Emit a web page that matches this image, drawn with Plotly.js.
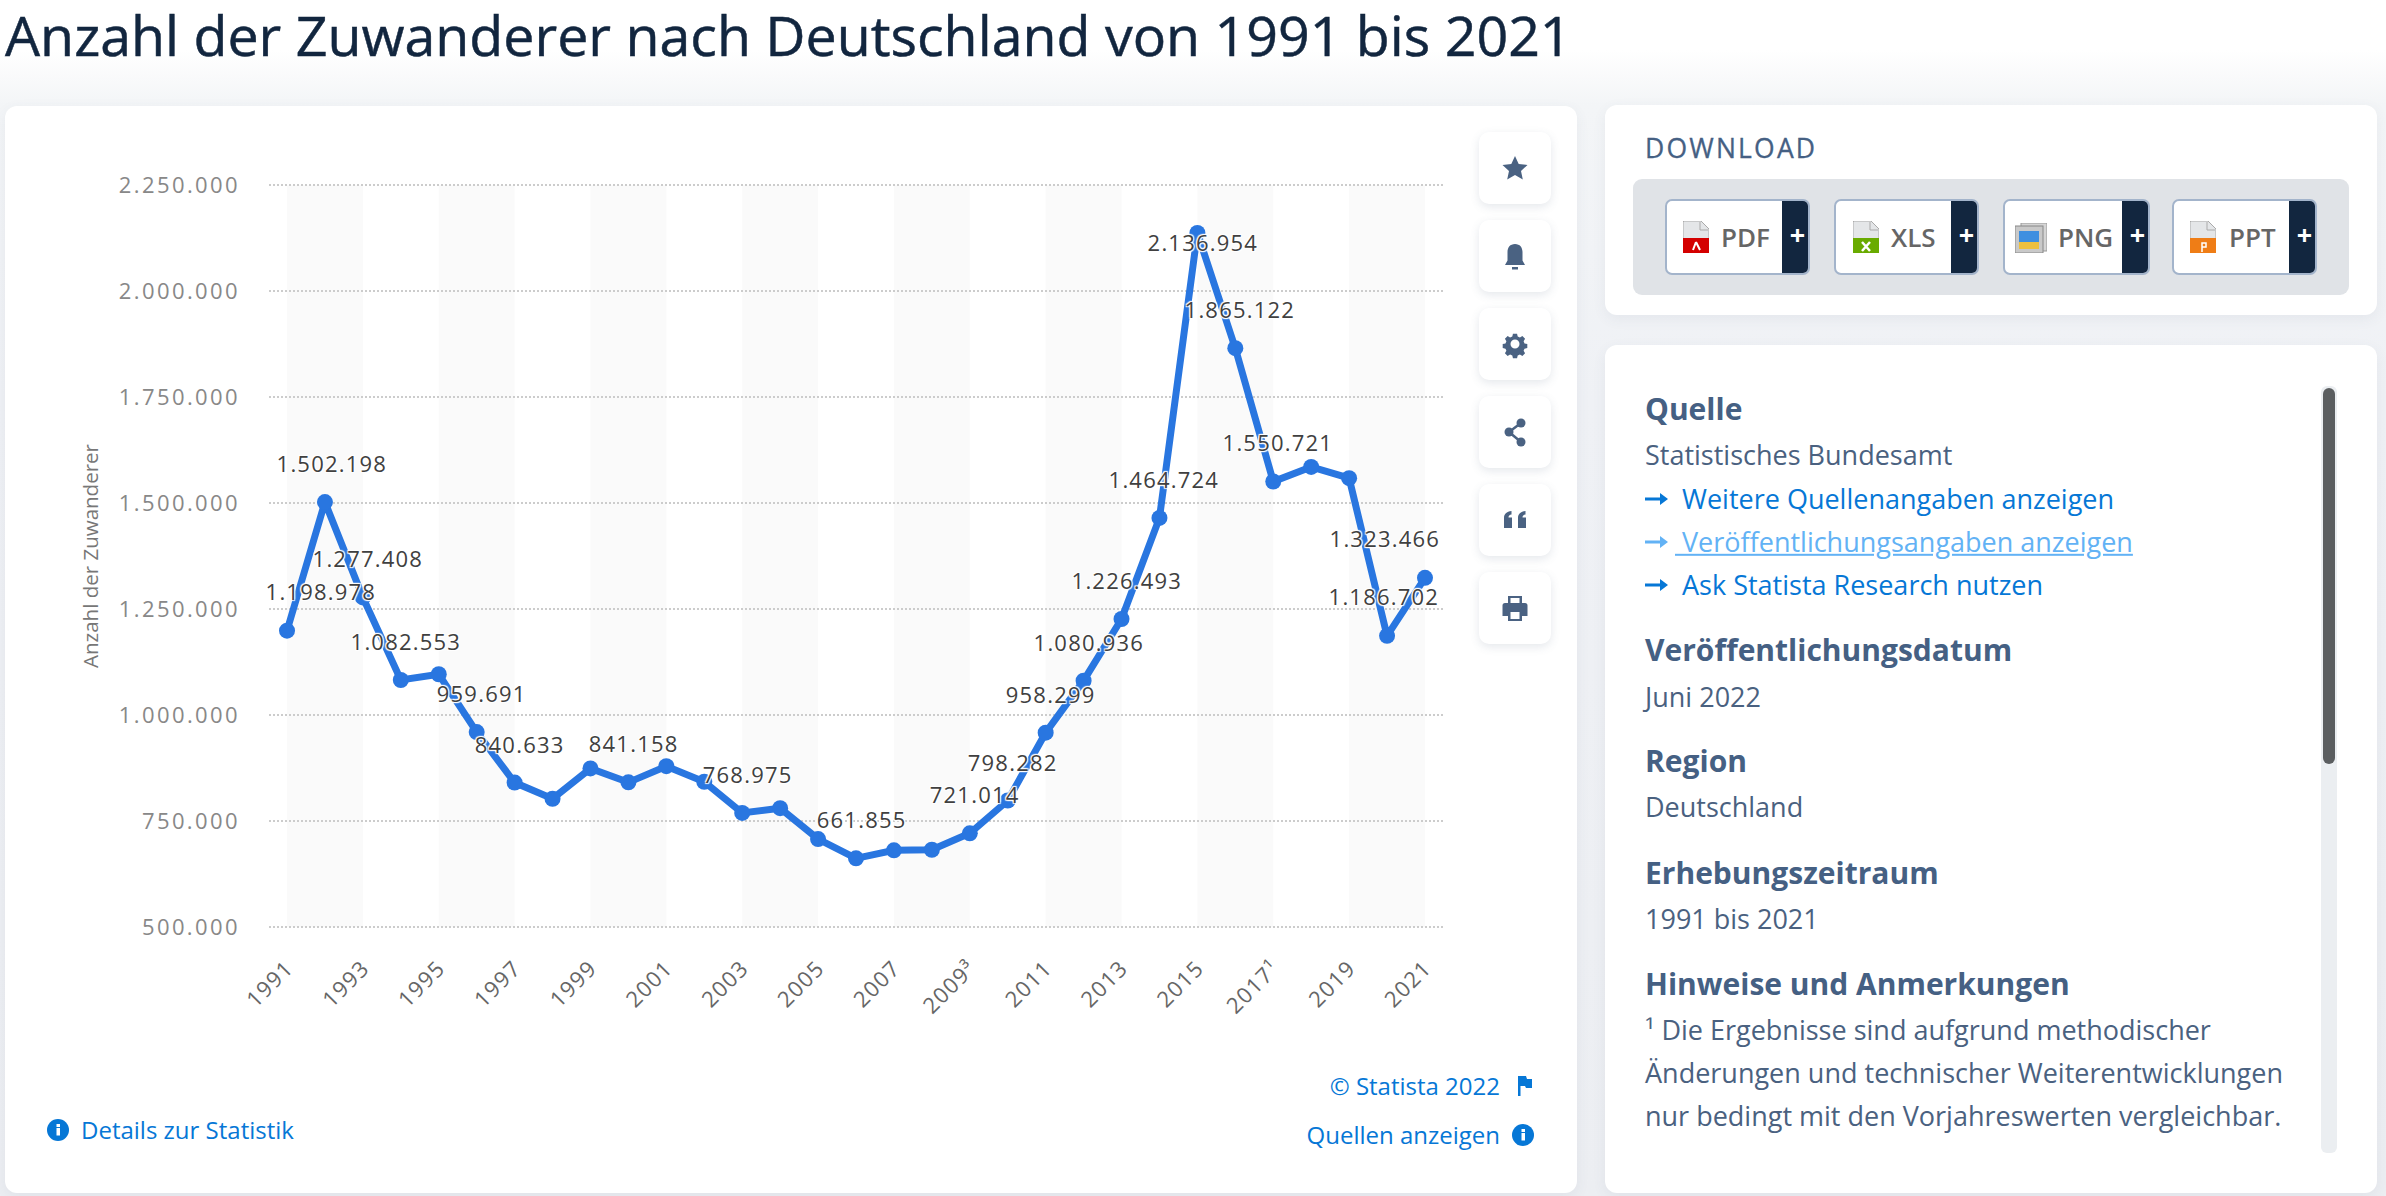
<!DOCTYPE html>
<html lang="de">
<head>
<meta charset="utf-8">
<title>Anzahl der Zuwanderer nach Deutschland von 1991 bis 2021</title>
<script src="https://cdn.plot.ly/plotly-3.0.1.min.js"></script>
<style>
html,body{margin:0;padding:0;width:2386px;height:1196px;overflow:hidden;font-family:"Open Sans",sans-serif;}
body{background:linear-gradient(180deg,#ffffff 0,#ffffff 50px,#f3f5f7 105px,#eff1f5 400px,#eceef2 1196px);position:relative;}
.card{position:absolute;background:#fff;border-radius:12px;box-shadow:0 4px 14px rgba(70,90,120,.07);}
.t{position:absolute;white-space:nowrap;transform:translateY(-50%);line-height:1.2;}
.h{font-weight:700;color:#456083;font-size:30px;left:1645px;}
.p{color:#4a6180;font-size:27px;left:1645px;}
.l{color:#0677d6;font-size:27px;left:1682px;}
.dl{position:absolute;top:199px;height:72px;background:#fff;border:2px solid #a3b4cb;border-radius:7px;}
.dl i{position:absolute;right:0;top:0;bottom:0;width:26px;background:#12263f;border-radius:0 5px 5px 0;}
.dl b{position:absolute;left:5px;right:0;top:50%;transform:translateY(-58%);text-align:center;color:#fff;font:700 27px/1 "Open Sans";font-style:normal;}
.dlt{position:absolute;color:#666;font-weight:600;font-size:26px;top:237px;transform:translateY(-50%);line-height:1;}
.side{position:absolute;left:1479px;width:72px;height:72px;background:#fff;border-radius:10px;box-shadow:0 3px 10px rgba(70,90,120,.14);}
.side svg{position:absolute;left:16px;top:16px;width:40px;height:40px;fill:#4a6282;}
svg.abs{position:absolute;}
#chart{position:absolute;left:0;top:0;width:2386px;height:1196px;z-index:2;}
#chart .ytick text{letter-spacing:2.4px;}
#chart .xtick text{letter-spacing:1.2px;}
#chart .annotation-text{letter-spacing:1.2px;}
</style>
</head>
<body>
<div class="t" style="left:5px;top:35px;font-size:55.5px;-webkit-text-stroke:.5px #12263f;color:#12263f;">Anzahl der Zuwanderer nach Deutschland von 1991 bis 2021</div>

<div class="card" style="left:5px;top:106px;width:1572px;height:1087px;"></div>
<div class="card" style="left:1605px;top:105px;width:772px;height:210px;"></div>
<div class="card" style="left:1605px;top:345px;width:772px;height:848px;"></div>

<!-- side buttons -->
<div class="side" style="top:132px;"><svg viewBox="0 0 40 40"><path d="M20 8l3.700 8 8.800 1-6.500 5.900 1.800 8.600L20 27.100 12.200 31.500l1.800-8.600L7.500 17l8.800-1z"/></svg></div>
<div class="side" style="top:220px;"><svg viewBox="0 0 40 40"><path d="M20 8c-5 0-7.500 3.600-7.500 8v8.500L10 29h20l-2.500-4.500V16c0-4.400-2.500-8-7.500-8z"/><rect x="17" y="31" width="6" height="2.500"/></svg></div>
<div class="side" style="top:308px;"><svg viewBox="0 0 40 40"><path fill-rule="evenodd" d="M17.500 8h5l.8 3.400 2.700 1.200 3-1.800 3.300 3.400-1.800 3 1.100 2.600 3.400.8v4.800l-3.400.8-1.100 2.600 1.800 3-3.300 3.400-3-1.800-2.700 1.200-.8 3.400h-5l-.8-3.400-2.700-1.200-3 1.800-3.300-3.400 1.800-3-1.100-2.600-3.400-.8v-4.800l3.400-.8 1.100-2.600-1.800-3 3.300-3.400 3 1.800 2.700-1.200zM20 15a5.500 5.500 0 1 0 0 11 5.500 5.500 0 0 0 0-11z" transform="translate(3.600 3.200) scale(.82 .82)"/></svg></div>
<div class="side" style="top:396px;"><svg viewBox="0 0 40 40"><circle cx="26" cy="11" r="4.500"/><circle cx="14" cy="20" r="4.500"/><circle cx="26" cy="30" r="4.500"/><path d="M14 20L26 11M14 20l12 10" stroke="#4a6282" stroke-width="2.500"/></svg></div>
<div class="side" style="top:484px;"><svg viewBox="0 0 40 40"><path d="M9 28V18c0-4 2.500-6.500 7.500-7v3.500c-2 .3-3 1.300-3 3h3.500V28zM23 28V18c0-4 2.500-6.500 7.500-7v3.500c-2 .3-3 1.300-3 3H31V28z"/></svg></div>
<div class="side" style="top:572px;"><svg viewBox="0 0 40 40"><path fill-rule="evenodd" d="M13 8h14v7h3a2.500 2.500 0 0 1 2.500 2.500V28H27v5H13v-5H7.500V17.500A2.500 2.500 0 0 1 10 15h3zm2.500 2v5h9v-5zm0 14v7h9v-7z"/></svg></div>

<!-- chart footer -->
<svg class="abs" style="left:47px;top:1119px;" width="22" height="22" viewBox="0 0 22 22"><circle cx="11" cy="11" r="11" fill="#0677d6"/><rect x="9.500" y="9" width="3.500" height="7.500" fill="#fff"/><rect x="9.500" y="5" width="3.500" height="3" fill="#fff"/></svg>
<div class="t" style="left:81px;top:1130px;font-size:24px;color:#0677d6;">Details zur Statistik</div>
<div class="t" style="right:886px;top:1086px;font-size:24px;color:#0677d6;">© Statista 2022</div>
<svg class="abs" style="left:1517px;top:1076px;" width="15" height="20" viewBox="0 0 15 20"><path d="M1 0h2.500v20H1zM3 0h6l1 3h5v9H9l-1-2H3z" fill="#0677d6"/></svg>
<div class="t" style="right:886px;top:1135px;font-size:24px;color:#0677d6;">Quellen anzeigen</div>
<svg class="abs" style="left:1512px;top:1124px;" width="22" height="22" viewBox="0 0 22 22"><circle cx="11" cy="11" r="11" fill="#0677d6"/><rect x="9.500" y="9" width="3.500" height="7.500" fill="#fff"/><rect x="9.500" y="5" width="3.500" height="3" fill="#fff"/></svg>

<!-- download -->
<div class="t" style="left:1645px;top:149px;font-size:26.500px;color:#456083;letter-spacing:2.200px;-webkit-text-stroke:.3px #456083;">DOWNLOAD</div>
<div style="position:absolute;left:1633px;top:179px;width:716px;height:116px;background:#e0e3e7;border-radius:9px;"></div>
<div class="dl" style="left:1665px;width:141px;"><i><b>+</b></i></div>
<div class="dl" style="left:1834px;width:141px;"><i><b>+</b></i></div>
<div class="dl" style="left:2003px;width:143px;"><i><b>+</b></i></div>
<div class="dl" style="left:2172px;width:141px;"><i><b>+</b></i></div>
<svg class="abs" style="left:1683px;top:221px;" width="26" height="32" viewBox="0 0 26 32"><path d="M1 0h17l8 8v24H0V1z" fill="#e4e6e8" stroke="#aaa" stroke-width="1"/><path d="M0 17h26v15H0z" fill="#d40000"/><path d="M17 1v8h8" fill="none" stroke="#aaa"/><path d="M13 21l-3 8M13 21l4 8" stroke="#fff" stroke-width="2"/></svg>
<div class="dlt" style="left:1721px;">PDF</div>
<svg class="abs" style="left:1853px;top:221px;" width="26" height="32" viewBox="0 0 26 32"><path d="M1 0h17l8 8v24H0V1z" fill="#e4e6e8" stroke="#aaa" stroke-width="1"/><path d="M0 17h26v15H0z" fill="#69ab00"/><path d="M17 1v8h8" fill="none" stroke="#aaa"/><path d="M9 21l8 9M17 21l-8 9" stroke="#fff" stroke-width="2.500"/></svg>
<div class="dlt" style="left:1891px;">XLS</div>
<svg class="abs" style="left:2015px;top:223px;" width="32" height="30" viewBox="0 0 32 30"><rect x="6" y="0" width="26" height="28" fill="#d5d5d5" stroke="#999"/><rect x="0" y="3" width="28" height="27" fill="#c9c9c9" stroke="#888"/><rect x="4" y="8" width="20" height="11" fill="#3f8fe0"/><rect x="4" y="19" width="20" height="7" fill="#eec040"/></svg>
<div class="dlt" style="left:2058px;">PNG</div>
<svg class="abs" style="left:2190px;top:221px;" width="26" height="32" viewBox="0 0 26 32"><path d="M1 0h17l8 8v24H0V1z" fill="#e4e6e8" stroke="#aaa" stroke-width="1"/><path d="M0 17h26v15H0z" fill="#ef7d16"/><path d="M17 1v8h8" fill="none" stroke="#aaa"/><path d="M12 31v-9h4v4h-4" stroke="#fff" stroke-width="1.500" fill="none"/></svg>
<div class="dlt" style="left:2229px;">PPT</div>

<!-- details -->
<div class="t h" style="top:408.500px;">Quelle</div>
<div class="t p" style="top:455px;">Statistisches Bundesamt</div>
<svg class="abs" style="left:1645px;top:491px;" width="23" height="16" viewBox="0 0 23 16"><path d="M0 6.500h15V2l8 6-8 6V9.500H0z" fill="#0677d6"/></svg>
<div class="t l" style="top:499px;">Weitere Quellenangaben anzeigen</div>
<svg class="abs" style="left:1645px;top:534px;" width="23" height="16" viewBox="0 0 23 16"><path d="M0 6.500h15V2l8 6-8 6V9.500H0z" fill="#62b2f5"/></svg>
<div class="t l" style="top:542px;color:#62b2f5;left:1675px;text-decoration:underline;white-space:pre;"> Veröffentlichungsangaben anzeigen</div>
<svg class="abs" style="left:1645px;top:577px;" width="23" height="16" viewBox="0 0 23 16"><path d="M0 6.500h15V2l8 6-8 6V9.500H0z" fill="#0677d6"/></svg>
<div class="t l" style="top:585px;">Ask Statista Research nutzen</div>
<div class="t h" style="top:650px;">Veröffentlichungsdatum</div>
<div class="t p" style="top:696.500px;">Juni 2022</div>
<div class="t h" style="top:760.500px;">Region</div>
<div class="t p" style="top:807px;">Deutschland</div>
<div class="t h" style="top:873px;">Erhebungszeitraum</div>
<div class="t p" style="top:918.500px;">1991 bis 2021</div>
<div class="t h" style="top:984px;">Hinweise und Anmerkungen</div>
<div class="t p" style="top:1029.500px;">¹ Die Ergebnisse sind aufgrund methodischer</div>
<div class="t p" style="top:1073px;">Änderungen und technischer Weiterentwicklungen</div>
<div class="t p" style="top:1115.500px;">nur bedingt mit den Vorjahreswerten vergleichbar.</div>
<div style="position:absolute;left:2321px;top:386px;width:16px;height:767px;background:#ebeef1;border-radius:6px;"></div>
<div style="position:absolute;left:2323px;top:388px;width:12px;height:376px;background:#5b5e60;border-radius:6px;"></div>

<div id="chart"></div>

<script>
const years = [1991,1992,1993,1994,1995,1996,1997,1998,1999,2000,2001,2002,2003,2004,2005,2006,2007,2008,2009,2010,2011,2012,2013,2014,2015,2016,2017,2018,2019,2020,2021];
const values = [1198978,1502198,1277408,1082553,1096048,959691,840633,802456,874023,841158,879217,842543,768975,780175,707352,661855,680766,682146,721014,798282,958299,1080936,1226493,1464724,2136954,1865122,1550721,1585112,1558612,1186702,1323466];
const labelledYears = [1991,1992,1993,1994,1996,1997,2000,2003,2006,2009,2010,2011,2012,2013,2014,2015,2016,2017,2020,2021];
const tickYears = [1991,1993,1995,1997,1999,2001,2003,2005,2007,2009,2011,2013,2015,2017,2019,2021];
const tickLabels = ["1991","1993","1995","1997","1999","2001","2003","2005","2007","2009³","2011","2013","2015","2017¹","2019","2021"];
const bandStarts = [1991,1995,1999,2003,2007,2011,2015,2019];
const yTicks = [500000,750000,1000000,1250000,1500000,1750000,2000000,2250000];

const labelShift = {1991:[34,40],1992:[7,39],2015:[6,-9],2020:[-3,40],2021:[-40,40]};
const halo = "1px 1px 1px #fff, -1px -1px 1px #fff, 1px -1px 1px #fff, -1px 1px 1px #fff, 0 0 2px #fff";

const annotations = labelledYears.map(function(y){
  const s = labelShift[y] || [5,39];
  return {x:y, y:values[years.indexOf(y)], xref:"x", yref:"y", showarrow:false,
    text:values[years.indexOf(y)].toLocaleString("de-DE"),
    xanchor:"center", yanchor:"middle", xshift:s[0], yshift:s[1],
    font:{family:"Open Sans", size:22, color:"#404040", shadow:halo}};
});
const shapes = bandStarts.map(function(y){
  return {type:"rect", xref:"x", yref:"y", x0:y, x1:y+2, y0:yTicks[0], y1:yTicks[yTicks.length-1], fillcolor:"#fafafa", line:{width:0}, layer:"below"};
});

// The y range reaches 2px past the first and last tick so that their grid lines are drawn.
const yPad = 250000 / 106 * 2;

Plotly.newPlot("chart",[{
  x:years, y:values, type:"scatter", mode:"lines+markers", cliponaxis:false,
  line:{color:"#2976e0", width:7},
  marker:{color:"#2976e0", size:16},
  hoverinfo:"skip"
}],{
  width:2386, height:1196,
  margin:{l:269, r:943, t:183, b:267, pad:0},
  paper_bgcolor:"rgba(0,0,0,0)", plot_bgcolor:"rgba(0,0,0,0)",
  separators:",.",
  showlegend:false,
  xaxis:{range:[1990.525,2021.475], tickvals:tickYears, ticktext:tickLabels, tickangle:-45,
    showgrid:false, zeroline:false, showline:false, ticks:"", ticklabelstandoff:21,
    tickfont:{family:"Open Sans", size:22, color:"#666666"}},
  yaxis:{range:[yTicks[0]-yPad, yTicks[yTicks.length-1]+yPad], tickvals:yTicks, tickformat:",d", showline:false, zeroline:false, ticks:"",
    gridcolor:"#cccccc", gridwidth:2, griddash:"2px,2px", ticklabelstandoff:28,
    tickfont:{family:"Open Sans", size:22, color:"#888888"},
    title:{text:"Anzahl der Zuwanderer", standoff:36, font:{family:"Open Sans", size:20.5, color:"#777777"}}},
  shapes:shapes,
  annotations:annotations
},{displayModeBar:false, responsive:false});
</script>
</body>
</html>
